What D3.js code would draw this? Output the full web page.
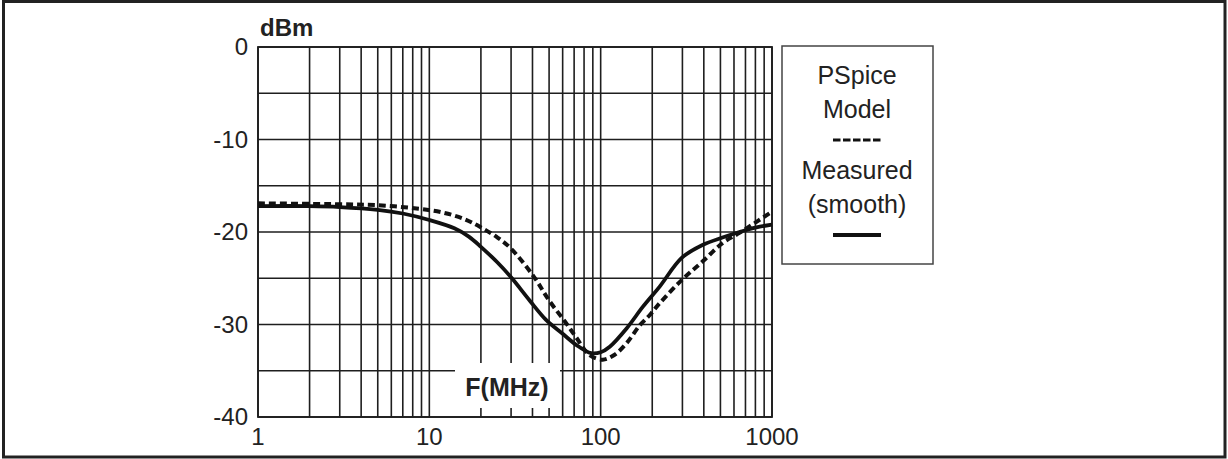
<!DOCTYPE html>
<html>
<head>
<meta charset="utf-8">
<script src="https://cdn.jsdelivr.net/npm/d3@7"></script>
<style>
  html, body { margin: 0; padding: 0; background: #fff; }
  svg { display: block; font-family: "Liberation Sans", Arial, sans-serif; }
</style>
</head>
<body>
<svg id="chart" width="1228" height="459"></svg>
<script>
// ---- data ----
const xTickLabels = [1, 10, 100, 1000];
const yTickLabels = [0, -10, -20, -30, -40];

const measuredFreq = [1, 2, 3, 5, 7, 10, 14, 17, 20, 25, 30, 38.5, 48, 60, 72, 88, 100, 113, 142, 176, 221, 297, 393, 514, 646, 812, 1000];
const measuredDbm  = [-17.2, -17.2, -17.3, -17.6, -18.0, -18.7, -19.6, -20.5, -21.6, -23.3, -24.9, -27.4, -29.5, -31.0, -32.2, -33.1, -33.0, -32.4, -30.4, -28.1, -25.9, -22.8, -21.4, -20.6, -20.0, -19.5, -19.2];

const modelFreq = [1, 3, 5, 8.8, 12, 16, 20, 25, 30, 41, 50, 62, 72, 86, 103, 120, 142, 169, 193, 221, 297, 393, 514, 646, 812, 1000];
const modelDbm  = [-16.9, -17.0, -17.1, -17.5, -17.9, -18.6, -19.5, -20.6, -21.8, -24.9, -27.4, -29.7, -31.4, -33.3, -33.8, -33.3, -32.0, -30.1, -29.0, -27.7, -25.2, -23.2, -21.2, -20.1, -18.9, -17.8];

const legendLines = ["PSpice", "Model", "Measured", "(smooth)"];

// ---- layout ----
const svg = d3.select("#chart");
const pLeft = 258, pRight = 772, pTop = 47, pBottom = 417;

const x = d3.scaleLog().domain([1, 1000]).range([pLeft, pRight]);
const y = d3.scaleLinear().domain([-40, 0]).range([pBottom, pTop]);

// outer frame
svg.append("rect").attr("x", 3.5).attr("y", 1.5).attr("width", 1221.5).attr("height", 455.5)
  .attr("fill", "none").attr("stroke", "#222").attr("stroke-width", 3);

// grid
const gridColor = "#1e1e1e";
const vticks = [];
for (let d = 1; d < 1000; d *= 10) for (let k = 1; k <= 9; k++) vticks.push(d * k);
vticks.push(1000);
svg.append("g").selectAll("line").data(vticks).join("line")
  .attr("x1", d => x(d)).attr("x2", d => x(d))
  .attr("y1", pTop).attr("y2", pBottom)
  .attr("stroke", gridColor).attr("stroke-width", 1.6);

const hticks = d3.range(-40, 1, 5);
svg.append("g").selectAll("line").data(hticks).join("line")
  .attr("x1", pLeft).attr("x2", pRight)
  .attr("y1", d => y(d)).attr("y2", d => y(d))
  .attr("stroke", gridColor).attr("stroke-width", 1.6);

// plot border
svg.append("rect").attr("x", pLeft).attr("y", pTop).attr("width", pRight - pLeft).attr("height", pBottom - pTop)
  .attr("fill", "none").attr("stroke", gridColor).attr("stroke-width", 1.8);

// curves
const line = d3.line().x(d => x(d[0])).y(d => y(d[1])).curve(d3.curveCatmullRom.alpha(0.5));
svg.append("path").datum(d3.zip(measuredFreq, measuredDbm))
  .attr("d", line).attr("fill", "none").attr("stroke", "#111").attr("stroke-width", 3.8);
svg.append("path").datum(d3.zip(modelFreq, modelDbm))
  .attr("d", line).attr("fill", "none").attr("stroke", "#111").attr("stroke-width", 4)
  .attr("stroke-dasharray", "7,4");

// F(MHz) label with white box
svg.append("rect").attr("x", 455).attr("y", 363).attr("width", 105).attr("height", 45).attr("fill", "#fff");
svg.append("text").attr("x", 507).attr("y", 396).attr("text-anchor", "middle")
  .attr("font-size", 25).attr("font-weight", "bold").attr("fill", "#222").text("F(MHz)");

// axis labels
svg.append("g").selectAll("text").data(yTickLabels).join("text")
  .attr("x", 248).attr("y", d => y(d) + 8).attr("text-anchor", "end")
  .attr("font-size", 24).attr("fill", "#222").text(d => d);
svg.append("g").selectAll("text").data(xTickLabels).join("text")
  .attr("x", d => x(d)).attr("y", 445).attr("text-anchor", "middle")
  .attr("font-size", 24).attr("fill", "#222").text(d => d);

svg.append("text").attr("x", 260).attr("y", 36)
  .attr("font-size", 24).attr("font-weight", "bold").attr("fill", "#222").text("dBm");

// legend
const lg = svg.append("g");
lg.append("rect").attr("x", 782).attr("y", 46).attr("width", 151).attr("height", 218)
  .attr("fill", "#fff").attr("stroke", "#444").attr("stroke-width", 1.5);
const lx = 857;
const lyPos = [84, 118, 179, 213];
lg.selectAll("text").data(legendLines).join("text")
  .attr("x", lx).attr("y", (d, i) => lyPos[i]).attr("text-anchor", "middle")
  .attr("font-size", 25).attr("fill", "#222").text(d => d);
lg.append("line").attr("x1", 833).attr("x2", 881).attr("y1", 140).attr("y2", 140)
  .attr("stroke", "#111").attr("stroke-width", 3).attr("stroke-dasharray", "7.5,2.5");
lg.append("line").attr("x1", 833).attr("x2", 881).attr("y1", 235).attr("y2", 235)
  .attr("stroke", "#111").attr("stroke-width", 4);
</script>
</body>
</html>
